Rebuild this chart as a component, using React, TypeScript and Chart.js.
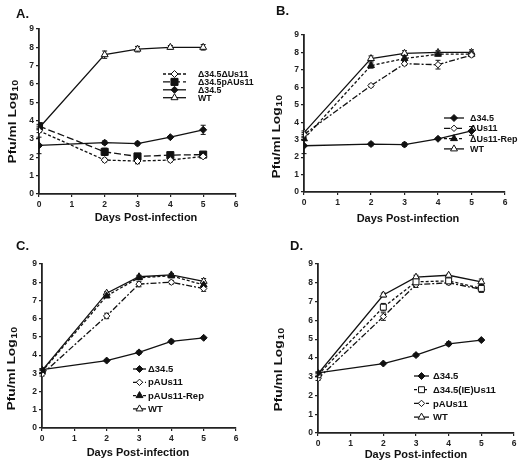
import React, { useEffect, useRef } from "react";
import { Chart, registerables } from "chart.js";

Chart.register(...registerables);

// ---------- data ----------
const days = [0, 2, 3, 4, 5];
const xAxisLabel = "Days Post-infection";
const yAxisLabelMain = "Pfu/ml Log";
const yAxisLabelSub = "10";
const panelLetters = ["A.", "B.", "C.", "D."];

// Panel A
const aLabels = ["Δ34.5ΔUs11", "Δ34.5pAUs11", "Δ34.5", "WT"];
const aDUs11 = [3.45, 1.85, 1.8, 1.85, 2.05];
const aDUs11Err = [0.1, 0.1, 0.15, 0.1, 0.05];
const aPAUs11 = [3.7, 2.3, 2.05, 2.12, 2.15];
const aPAUs11Err = [0.1, 0.2, 0.05, 0.05, 0.05];
const aD345 = [2.65, 2.8, 2.75, 3.1, 3.5];
const aD345Err = [0.45, 0.1, 0.08, 0.05, 0.25];
const aWT = [3.6, 7.6, 7.9, 8.0, 8.0];
const aWTErr = [0.1, 0.2, 0.15, 0.1, 0.15];

// Panel B
const bLabels = ["Δ34.5", "ΔUs11", "ΔUs11-Rep", "WT"];
const bD345 = [2.65, 2.75, 2.72, 3.05, 3.5];
const bD345Err = [0.45, 0.1, 0.1, 0.05, 0.25];
const bDUs11 = [3.3, 6.1, 7.35, 7.3, 7.85];
const bDUs11Err = [0.1, 0.08, 0.1, 0.25, 0.1];
const bRep = [3.05, 7.25, 7.65, 7.9, 7.9];
const bRepErr = [0.1, 0.15, 0.15, 0.1, 0.1];
const bWT = [3.4, 7.65, 7.95, 8.0, 8.0];
const bWTErr = [0.1, 0.15, 0.15, 0.1, 0.15];

// Panel C
const cLabels = ["Δ34.5", "pAUs11", "pAUs11-Rep", "WT"];
const cD345 = [3.2, 3.7, 4.15, 4.75, 4.95];
const cD345Err = [0.05, 0.05, 0.08, 0.08, 0.05];
const cPAUs11 = [2.95, 6.15, 7.9, 8.0, 7.65];
const cPAUs11Err = [0.1, 0.15, 0.15, 0.1, 0.15];
const cRep = [3.1, 7.25, 8.25, 8.35, 7.85];
const cRepErr = [0.1, 0.1, 0.1, 0.1, 0.15];
const cWT = [3.15, 7.4, 8.3, 8.4, 8.05];
const cWTErr = [0.1, 0.08, 0.08, 0.08, 0.15];

// Panel D
const dLabels = ["Δ34.5", "Δ34.5(IE)Us11", "pAUs11", "WT"];
const dD345 = [3.2, 3.7, 4.15, 4.75, 4.95];
const dD345Err = [0.05, 0.05, 0.08, 0.1, 0.05];
const dIEUs11 = [3.1, 6.7, 8.05, 8.1, 7.7];
const dIEUs11Err = [0.1, 0.2, 0.15, 0.1, 0.2];
const dPAUs11 = [2.9, 6.2, 7.9, 8.0, 7.65];
const dPAUs11Err = [0.1, 0.2, 0.15, 0.1, 0.15];
const dWT = [3.15, 7.35, 8.3, 8.4, 8.05];
const dWTErr = [0.1, 0.1, 0.1, 0.05, 0.15];

// ---------- styles ----------
const FONT = "'Liberation Sans', Arial, Helvetica, sans-serif";
const INK = "#111";

type Style = { dash: number[]; shape: string; filled: boolean; r: number };
const SOLID_DOT: Style = { dash: [], shape: "rectRot", filled: true, r: 3.5 };
const OPEN_TRI: Style = { dash: [], shape: "triangle", filled: false, r: 4 };
const SHORT_DASH = [3, 2];
const LONG_DASH = [7, 3];
const DASH_DOT = [6, 2, 2, 2];

type Series = { label: string; values: number[]; err: number[]; style: Style };

type PanelCfg = {
  letter: string;
  left: number; top: number; w: number; h: number;
  area: { L: number; R: number; T: number; B: number };
  letterPos: [number, number];
  xTitle: [number, number];
  yTitle: [number, number];
  legend: { x0: number; sw: number; tx: number; y0: number; dy: number; fs: number };
  series: Series[];
};

const panels: PanelCfg[] = [
  {
    letter: panelLetters[0], left: 0, top: 0, w: 264, h: 232,
    area: { L: 39, R: 236, T: 29, B: 194 },
    letterPos: [16, 18], xTitle: [146, 218], yTitle: [13, 122],
    legend: { x0: 163, sw: 23, tx: 198, y0: 74, dy: 7.9, fs: 8.8 },
    series: [
      { label: aLabels[0], values: aDUs11, err: aDUs11Err, style: { dash: SHORT_DASH, shape: "rectRot", filled: false, r: 3.5 } },
      { label: aLabels[1], values: aPAUs11, err: aPAUs11Err, style: { dash: LONG_DASH, shape: "rect", filled: true, r: 5 } },
      { label: aLabels[2], values: aD345, err: aD345Err, style: SOLID_DOT },
      { label: aLabels[3], values: aWT, err: aWTErr, style: OPEN_TRI },
    ],
  },
  {
    letter: panelLetters[1], left: 264, top: 0, w: 264, h: 232,
    area: { L: 40, R: 241, T: 35, B: 192 },
    letterPos: [12, 15], xTitle: [144, 219], yTitle: [13, 137],
    legend: { x0: 180, sw: 20, tx: 206, y0: 118, dy: 10.3, fs: 9 },
    series: [
      { label: bLabels[0], values: bD345, err: bD345Err, style: SOLID_DOT },
      { label: bLabels[1], values: bDUs11, err: bDUs11Err, style: { dash: DASH_DOT, shape: "rectRot", filled: false, r: 3.2 } },
      { label: bLabels[2], values: bRep, err: bRepErr, style: { dash: SHORT_DASH, shape: "triangle", filled: true, r: 4 } },
      { label: bLabels[3], values: bWT, err: bWTErr, style: OPEN_TRI },
    ],
  },
  {
    letter: panelLetters[2], left: 0, top: 232, w: 264, h: 233,
    area: { L: 42, R: 236, T: 32, B: 196 },
    letterPos: [16, 18], xTitle: [138, 221], yTitle: [12, 137],
    legend: { x0: 133, sw: 13, tx: 148, y0: 137, dy: 13.3, fs: 9.5 },
    series: [
      { label: cLabels[0], values: cD345, err: cD345Err, style: SOLID_DOT },
      { label: cLabels[1], values: cPAUs11, err: cPAUs11Err, style: { dash: DASH_DOT, shape: "rectRot", filled: false, r: 3.2 } },
      { label: cLabels[2], values: cRep, err: cRepErr, style: { dash: SHORT_DASH, shape: "triangle", filled: true, r: 4 } },
      { label: cLabels[3], values: cWT, err: cWTErr, style: OPEN_TRI },
    ],
  },
  {
    letter: panelLetters[3], left: 264, top: 232, w: 264, h: 233,
    area: { L: 54, R: 250, T: 32, B: 201 },
    letterPos: [26, 18], xTitle: [152, 223], yTitle: [15, 138],
    legend: { x0: 150, sw: 15, tx: 169, y0: 144, dy: 13.7, fs: 9.5 },
    series: [
      { label: dLabels[0], values: dD345, err: dD345Err, style: SOLID_DOT },
      { label: dLabels[1], values: dIEUs11, err: dIEUs11Err, style: { dash: SHORT_DASH, shape: "rect", filled: false, r: 4.2 } },
      { label: dLabels[2], values: dPAUs11, err: dPAUs11Err, style: { dash: DASH_DOT, shape: "rectRot", filled: false, r: 3.2 } },
      { label: dLabels[3], values: dWT, err: dWTErr, style: OPEN_TRI },
    ],
  },
];

// ---------- drawing helpers ----------
function drawMarker(ctx: CanvasRenderingContext2D, s: Style, x: number, y: number) {
  const r = s.r;
  ctx.save();
  ctx.setLineDash([]);
  ctx.beginPath();
  if (s.shape === "rectRot") {
    ctx.moveTo(x, y - r); ctx.lineTo(x + r, y); ctx.lineTo(x, y + r); ctx.lineTo(x - r, y); ctx.closePath();
  } else if (s.shape === "rect") {
    const h = r / Math.SQRT2;
    ctx.rect(x - h, y - h, 2 * h, 2 * h);
  } else if (s.shape === "triangle") {
    ctx.moveTo(x, y - r); ctx.lineTo(x + r * 0.866, y + r / 2); ctx.lineTo(x - r * 0.866, y + r / 2); ctx.closePath();
  } else {
    ctx.arc(x, y, r, 0, Math.PI * 2);
  }
  ctx.fillStyle = s.filled ? INK : "#fff";
  ctx.fill();
  ctx.lineWidth = 1;
  ctx.strokeStyle = INK;
  ctx.stroke();
  ctx.restore();
}

const YW = 16;
const XH = 17;

function Panel({ cfg }: { cfg: PanelCfg }) {
  const ref = useRef<HTMLCanvasElement | null>(null);
  useEffect(() => {
    const canvas = ref.current;
    if (!canvas) return;
    const { area } = cfg;

    const errorBars = {
      id: "errorBars",
      beforeDatasetsDraw(chart: any) {
        const ctx = chart.ctx as CanvasRenderingContext2D;
        const ys = chart.scales.y;
        ctx.save();
        ctx.strokeStyle = INK;
        ctx.lineWidth = 1;
        ctx.setLineDash([]);
        cfg.series.forEach((s, i) => {
          const meta = chart.getDatasetMeta(i);
          meta.data.forEach((pt: any, j: number) => {
            const e = s.err[j];
            if (!e) return;
            const y1 = ys.getPixelForValue(s.values[j] + e);
            const y2 = ys.getPixelForValue(s.values[j] - e);
            ctx.beginPath();
            ctx.moveTo(pt.x, y1); ctx.lineTo(pt.x, y2);
            ctx.moveTo(pt.x - 2.5, y1); ctx.lineTo(pt.x + 2.5, y1);
            ctx.moveTo(pt.x - 2.5, y2); ctx.lineTo(pt.x + 2.5, y2);
            ctx.stroke();
          });
        });
        ctx.restore();
      },
    };

    const annotations = {
      id: "annotations",
      afterDraw(chart: any) {
        const ctx = chart.ctx as CanvasRenderingContext2D;
        ctx.save();
        ctx.fillStyle = INK;
        // panel letter
        ctx.font = `bold 13px ${FONT}`;
        ctx.textAlign = "left";
        ctx.textBaseline = "alphabetic";
        ctx.fillText(cfg.letter, cfg.letterPos[0], cfg.letterPos[1]);
        // x title
        ctx.font = `bold 11px ${FONT}`;
        ctx.textAlign = "center";
        ctx.textBaseline = "middle";
        ctx.fillText(xAxisLabel, cfg.xTitle[0], cfg.xTitle[1]);
        // y title with subscript
        ctx.save();
        ctx.translate(cfg.yTitle[0], cfg.yTitle[1]);
        ctx.rotate(-Math.PI / 2);
        ctx.scale(1.25, 1);
        ctx.textAlign = "left";
        ctx.font = `bold 11px ${FONT}`;
        const w1 = ctx.measureText(yAxisLabelMain).width;
        ctx.font = `bold 8.5px ${FONT}`;
        const w2 = ctx.measureText(yAxisLabelSub).width;
        const start = -(w1 + w2) / 2;
        ctx.font = `bold 11px ${FONT}`;
        ctx.fillText(yAxisLabelMain, start, 0);
        ctx.font = `bold 8.5px ${FONT}`;
        ctx.fillText(yAxisLabelSub, start + w1 + 0.5, 3);
        ctx.restore();
        // legend
        const lg = cfg.legend;
        cfg.series.forEach((s, i) => {
          const y = lg.y0 + i * lg.dy;
          ctx.save();
          ctx.strokeStyle = INK;
          ctx.lineWidth = 1.3;
          ctx.setLineDash(s.style.dash);
          ctx.beginPath();
          ctx.moveTo(lg.x0, y);
          ctx.lineTo(lg.x0 + lg.sw, y);
          ctx.stroke();
          ctx.restore();
          drawMarker(ctx, s.style, lg.x0 + lg.sw / 2, y);
          ctx.fillStyle = INK;
          ctx.font = `bold ${lg.fs}px ${FONT}`;
          ctx.textAlign = "left";
          ctx.textBaseline = "middle";
          ctx.fillText(s.label, lg.tx, y + 0.5);
        });
        ctx.restore();
      },
    };

    const tickFont = { family: FONT, size: 8.5, weight: "bold" as const };
    const chart = new Chart(canvas, {
      type: "line",
      data: {
        datasets: cfg.series.map((s) => ({
          label: s.label,
          data: days.map((d, j) => ({ x: d, y: s.values[j] })),
          borderColor: INK,
          borderWidth: 1.3,
          borderDash: s.style.dash,
          tension: 0,
          fill: false,
          pointStyle: s.style.shape as any,
          pointRadius: s.style.r,
          pointBorderWidth: 1,
          pointBorderColor: INK,
          pointBackgroundColor: s.style.filled ? INK : "#fff",
        })),
      },
      options: {
        animation: false,
        responsive: false,
        devicePixelRatio: 1,
        layout: {
          padding: {
            left: area.L - YW,
            right: cfg.w - area.R,
            top: area.T,
            bottom: cfg.h - area.B - XH,
          },
        },
        plugins: { legend: { display: false }, tooltip: { enabled: false } },
        scales: {
          x: {
            type: "linear",
            min: 0,
            max: 6,
            ticks: { stepSize: 1, font: tickFont, color: "#222", padding: 3, maxRotation: 0, autoSkip: false },
            grid: { drawOnChartArea: false, drawTicks: true, tickLength: 3, color: "#222", lineWidth: 1.2 },
            border: { display: true, color: "#222", width: 1.8 },
            afterFit: (s: any) => { s.height = XH; },
          },
          y: {
            min: 0,
            max: 9,
            ticks: { stepSize: 1, font: tickFont, color: "#222", padding: 2, autoSkip: false },
            grid: { drawOnChartArea: false, drawTicks: true, tickLength: 3, color: "#222", lineWidth: 1.2 },
            border: { display: true, color: "#222", width: 1.8 },
            afterFit: (s: any) => { s.width = YW; },
          },
        },
      },
      plugins: [errorBars, annotations],
    });
    return () => chart.destroy();
  }, [cfg]);

  return (
    <canvas
      ref={ref}
      width={cfg.w}
      height={cfg.h}
      style={{ position: "absolute", left: cfg.left, top: cfg.top, width: cfg.w, height: cfg.h }}
    />
  );
}

export default function App() {
  return (
    <div style={{ position: "absolute", left: 0, top: 0, width: 528, height: 465, background: "#fff", overflow: "hidden" }}>
      {panels.map((p, i) => (
        <Panel key={i} cfg={p} />
      ))}
    </div>
  );
}
